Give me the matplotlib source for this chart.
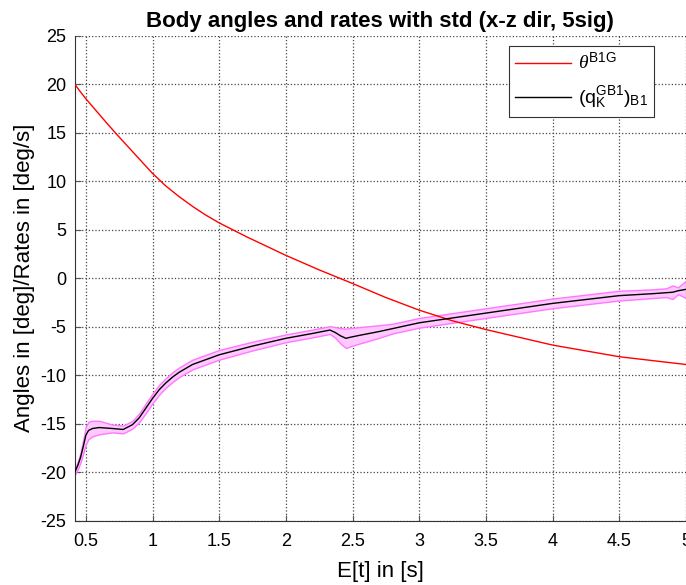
import matplotlib
matplotlib.use("Agg")
import matplotlib.pyplot as plt
import numpy as np

# red curve: body angle theta^B1G
t_theta = [0.417, 0.46, 0.5, 0.55, 0.6, 0.65, 0.72, 0.8, 0.9, 1.0, 1.1, 1.2, 1.3,
           1.4, 1.5, 1.6, 1.7, 1.8, 1.9, 2.0, 2.1, 2.25, 2.5, 2.75, 3.0, 3.25, 3.5,
           3.75, 4.0, 4.25, 4.5, 4.75, 5.0]
theta = [20.0, 19.2, 18.5, 17.7, 16.9, 16.1, 15.0, 13.8, 12.3, 10.8, 9.5, 8.4, 7.4,
         6.5, 5.7, 5.0, 4.3, 3.65, 3.0, 2.35, 1.75, 0.85, -0.55, -2.0, -3.3, -4.4,
         -5.3, -6.1, -6.9, -7.5, -8.1, -8.5, -8.9]

# black curve: rate q with std band
t_q = [0.417, 0.44, 0.46, 0.48, 0.5, 0.52, 0.55, 0.6, 0.7, 0.78, 0.85, 0.9, 0.95,
       1.0, 1.05, 1.1, 1.15, 1.2, 1.3, 1.4, 1.5, 1.75, 2.0, 2.2, 2.33, 2.37, 2.41,
       2.45, 2.48, 2.55, 2.7, 2.8, 3.0, 3.25, 3.5, 3.75, 4.0, 4.25, 4.5, 4.75, 4.85,
       4.9, 4.94, 5.0]
q_mean = [-20.0, -19.3, -18.5, -17.4, -16.2, -15.7, -15.5, -15.4, -15.5, -15.6,
          -15.1, -14.4, -13.4, -12.4, -11.5, -10.8, -10.2, -9.7, -8.9, -8.4, -7.9,
          -7.0, -6.2, -5.7, -5.35, -5.6, -5.95, -6.2, -6.1, -5.9, -5.5, -5.2, -4.6,
          -4.1, -3.6, -3.1, -2.6, -2.2, -1.8, -1.6, -1.5, -1.45, -1.3, -1.15]
q_std = [0.3, 0.4, 0.5, 0.7, 0.9, 0.9, 0.8, 0.7, 0.4, 0.4, 0.4, 0.45, 0.5, 0.5,
         0.5, 0.5, 0.5, 0.5, 0.5, 0.5, 0.5, 0.45, 0.4, 0.4, 0.4, 0.55, 0.8, 1.0,
         0.95, 0.85, 0.65, 0.5, 0.5, 0.5, 0.5, 0.5, 0.5, 0.5, 0.5, 0.45, 0.45,
         0.7, 0.35, 0.9]

xticks = [0.5, 1, 1.5, 2, 2.5, 3, 3.5, 4, 4.5, 5]
yticks = [-25, -20, -15, -10, -5, 0, 5, 10, 15, 20, 25]

plt.rcParams["font.family"] = ["Liberation Sans", "DejaVu Sans"]
plt.rcParams["mathtext.fontset"] = "custom"
plt.rcParams["mathtext.rm"] = "Liberation Sans"
plt.rcParams["mathtext.it"] = "Liberation Serif:italic"
plt.rcParams["axes.unicode_minus"] = False

fig = plt.figure(figsize=(6.86, 5.85), dpi=100)
ax = fig.add_axes([0.109, 0.110, 0.891, 0.829])

qm = np.array(q_mean)
qs = np.array(q_std)
ax.fill_between(t_q, qm - qs, qm + qs, facecolor="#ffc8ff", edgecolor="#ff78ff",
                linewidth=1.0, zorder=2)
ax.plot(t_theta, theta, color="red", linewidth=1.0, zorder=3,
        label=r"$\theta^{\mathrm{B1G}}$")
ax.plot(t_q, q_mean, color="black", linewidth=1.0, zorder=4,
        label=r"$(\mathrm{q}_{\mathrm{K}}^{\mathrm{GB1}})_{\mathrm{B1}}$")

ax.set_xlim(0.417, 5)
ax.set_ylim(-25, 25)
ax.set_xticks(xticks)
ax.set_xticklabels([f"{v:g}" for v in xticks])
ax.set_yticks(yticks)
ax.tick_params(direction="in", length=4, labelsize=13, top=False, right=False,
               color="#555555")
ax.tick_params(axis="x", pad=9)
ax.tick_params(axis="y", pad=6)
ax.grid(True, linestyle=":", color="#444444", linewidth=0.9)
ax.spines["top"].set_visible(False)
ax.spines["right"].set_visible(False)
for s in ("left", "bottom"):
    ax.spines[s].set_color("#333333")

ax.set_xlabel("E[t] in [s]", fontsize=16, labelpad=8)
ax.set_ylabel("Angles in [deg]/Rates in [deg/s]", fontsize=16, labelpad=4)
ax.set_title("Body angles and rates with std (x-z dir, 5sig)", fontsize=16,
             fontweight="bold", pad=6)

leg = ax.legend(loc="upper right", bbox_to_anchor=(0.9476, 0.978), fontsize=14,
                fancybox=False, framealpha=1, edgecolor="#333333",
                handlelength=2.9, borderpad=0.3, labelspacing=0.6,
                borderaxespad=0, handletextpad=0.35)
leg.get_frame().set_linewidth(0.8)

fig.savefig("out.png", dpi=100)
